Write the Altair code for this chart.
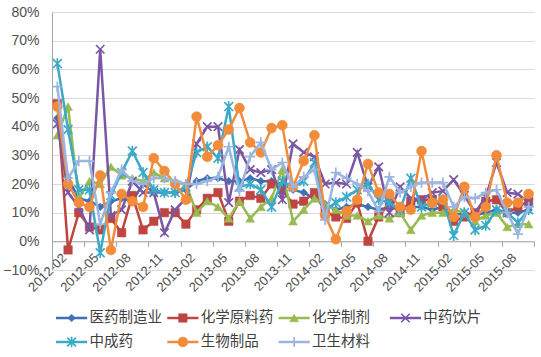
import json
import altair as alt
import pandas as pd

# ---------------- data (values in %) ----------------
months = [str(p) for p in pd.period_range("2012-02", "2015-10", freq="M")]
tick_labels = months[::3]

series_names = ["医药制造业", "化学原料药", "化学制剂", "中药饮片", "中成药", "生物制品", "卫生材料"]

yy_pharma = [43, 22, 15, 14, 12, 14, 15, 14, 20, 17, 17, 17, 18, 21, 22, 22, 21, 21, 22, 21, 21, 20, 18,
             17, 15, 13, 11, 12, 13, 12, 11, 12, 11, 12, 12, 11, 12, 9, 10, 9, 10, 11, 10, 10, 11]
yy_api = [48, -3, 10, 5, 4, 8, 3, 16, 4, 7, 10, 10, 6, 11, 15, 17, 7, 14, 16, 15, 20, 18, 13,
          14, 17, 10.5, 8.5, 8, 13.5, 0, 8.5, 13.5, 10, 14, 14.5, 14.5, 12, 7, 8.5, 10, 14, 14.5, 10, 12, 14]
yy_chem = [37, 47, 15, 21, 20, 26, 23, 22, 21, 24, 22, 21, 20, 10, 14, 12, 8, 14, 8, 12, 15, 25, 7,
           11, 15, 13, 11, 9, 9, 7, 9, 8, 10, 4, 9, 10, 10, 11, 10, 7, 9, 10, 5, 6, 6]
yy_tcm_slices = [41, 17, 12, 4, 67, 9, 11, 21, 17, 17, 3, 11, 15, 34, 40, 40, 13.5, 32, 25, 24, 25, 14.5, 34,
                 31, 29.5, 20, 20.5, 20, 31, 19, 26, 10, 19, 15, 14.5, 17, 17.5, 21.5, 16, 10, 15.5, 27.5, 17, 16.5, 13.5]
yy_tcm = [62, 39, 18, 18, -4, 16, 24, 31.5, 24, 18, 17, 17, 19, 31, 33, 29, 47, 19, 20, 18, 12, 21, 19,
          21, 27.5, 11, 13.5, 15.5, 18, 20, 14.5, 13.5, 11, 22, 12, 13.5, 14.5, 2, 10, 4, 5.5, 11, 10, 6.5, 11]
yy_bio = [47, 20, 13.5, 12, 23, -3, 16.5, 14, 12, 29, 24.5, 20, 14.5, 43.5, 29.5, 33.5, 39, 46.5, 34.5, 31, 39.5, 40.5, 19,
          28, 37, 9, 0.7, 10.5, 14.5, 27, 17, 16.5, 12, 11, 31.5, 13.5, 14.5, 8.5, 19, 8.5, 12, 30, 13.5, 13.5, 16.5]
yy_sanitary = [54, 22, 28, 28, 6, 17, 25, 21, 20, 22, 22, 21, 20, 20, 21, 22.5, 33, 17.5, 29.5, 34.5, 25, 27.5, 19,
               22.5, 25, 7.5, 24, 22, 20, 17.5, 10.5, 22.5, 17, 19, 20.5, 20.5, 20.5, 12, 15.5, 15, 17, 18, 10, 2.5, 12]

values = [yy_pharma, yy_api, yy_chem, yy_tcm_slices, yy_tcm, yy_bio, yy_sanitary]

# ---------------- styles ----------------
colors = ["#3F6FB4", "#BE4541", "#97BB4F", "#7A57A4", "#3AAAC8", "#F28C3A", "#9BB5E0"]
X_PATH = "M-1,-1L1,1M-1,1L1,-1"
AST_PATH = "M-1,-1L1,1M-1,1L1,-1M0,-1.2L0,1.2"
PLUS_PATH = "M-1.1,0L1.1,0M0,-1.1L0,1.1"
markers = [("diamond", True, 60), ("square", True, 72), ("triangle-up", True, 78),
           (X_PATH, False, 72), (AST_PATH, False, 78), ("circle", True, 100), (PLUS_PATH, False, 85)]
LINE_W = 2.5

W, H = 482, 258
Y_MIN, Y_MAX = -0.10, 0.80
axis_font = "Liberation Sans"
cjk_font = "Noto Sans CJK SC"

label_expr = f"{json.dumps(tick_labels)}[round((datum.value + 0.5) / 3)] || ''"

x_enc = alt.X(
    "i:Q",
    scale=alt.Scale(domain=[-0.5, len(months) - 0.5], nice=False, zero=False),
    axis=alt.Axis(
        values=[-0.5 + 3 * k for k in range(len(tick_labels) + 1)],
        labelExpr=label_expr, title=None, grid=False,
        offset=-H * (0 - Y_MIN) / (Y_MAX - Y_MIN),
        domain=True, domainColor="#A6A6A6", domainWidth=1,
        ticks=True, tickColor="#A6A6A6", tickSize=5,
        labelAngle=315, labelAlign="right", labelBaseline="middle",
        labelOffset=12, labelPadding=9, labelFontSize=13, labelFont=axis_font,
        labelColor="#505050", labelOverlap=False, labelFlush=False,
    ),
)
y_enc = alt.Y(
    "v:Q",
    scale=alt.Scale(domain=[Y_MIN, Y_MAX], nice=False, zero=False),
    axis=alt.Axis(
        values=[round(-0.1 + 0.1 * k, 2) for k in range(10)], format=".0%", title=None,
        grid=True, gridColor="#D9D9D9", gridWidth=1,
        domain=True, domainColor="#A6A6A6", ticks=False, labelPadding=13,
        labelFontSize=14, labelFont=axis_font, labelColor="#505050",
    ),
)

main_layers = []
for k, name in enumerate(series_names):
    df = pd.DataFrame({"i": list(range(len(months))), "month": months,
                       "v": [val / 100 for val in values[k]], "series": name})
    shape, filled, size = markers[k]
    line = alt.Chart(df).mark_line(color=colors[k], strokeWidth=LINE_W).encode(x=x_enc, y=y_enc)
    if filled:
        pts = alt.Chart(df).mark_point(shape=shape, filled=True, fill=colors[k], stroke=colors[k],
                                       strokeWidth=0.5, size=size, opacity=1)
    else:
        pts = alt.Chart(df).mark_point(shape=shape, filled=False, stroke=colors[k],
                                       strokeWidth=1.7, size=size, opacity=1)
    main_layers += [line, pts.encode(x=x_enc, y=y_enc)]

main = alt.layer(*main_layers)

# ---------------- legend (own scales, drawn below the plot) ----------------
leg_cols = [0, 1, 2, 3, 0, 1, 2]
leg_rows = [0, 0, 0, 0, 1, 1, 1]
lx_scale = alt.Scale(domain=[-0.036, 4.295], nice=False, zero=False)
ly_scale = alt.Scale(domain=[-12.75, -2.0], reverse=True, nice=False, zero=False)

legend_layers = []
for k, name in enumerate(series_names):
    ldf = pd.DataFrame({"col": [leg_cols[k]], "row": [leg_rows[k]], "name": [name]})
    base = alt.Chart(ldf).transform_calculate(
        x1="datum.col + 0.28", xm="datum.col + 0.14", xt="datum.col + 0.30")
    seg = base.mark_rule(color=colors[k], strokeWidth=LINE_W).encode(
        x=alt.X("col:Q", scale=lx_scale, axis=None), x2="x1:Q",
        y=alt.Y("row:Q", scale=ly_scale, axis=None))
    shape, filled, size = markers[k]
    if filled:
        mk = base.mark_point(shape=shape, filled=True, fill=colors[k], stroke=colors[k],
                             strokeWidth=0.5, size=size, opacity=1)
    else:
        mk = base.mark_point(shape=shape, filled=False, stroke=colors[k], strokeWidth=1.7,
                             size=size, opacity=1)
    mk = mk.encode(x=alt.X("xm:Q", scale=lx_scale, axis=None),
                   y=alt.Y("row:Q", scale=ly_scale, axis=None))
    txt = base.mark_text(align="left", baseline="middle", font=cjk_font, fontSize=14.5,
                         color="#404040").encode(
        x=alt.X("xt:Q", scale=lx_scale, axis=None),
        y=alt.Y("row:Q", scale=ly_scale, axis=None), text="name:N")
    legend_layers += [seg, mk, txt]

legend = alt.layer(*legend_layers)

chart = alt.layer(main, legend).resolve_scale(x="independent", y="independent").properties(
    width=W, height=H,
    autosize=alt.AutoSizeParams(type="none"),
    padding={"left": 52, "top": 12, "right": 7, "bottom": 87},
    background="white",
).configure_view(stroke=None)

chart.save("out.html", embed_options={"renderer": "svg", "actions": False})
